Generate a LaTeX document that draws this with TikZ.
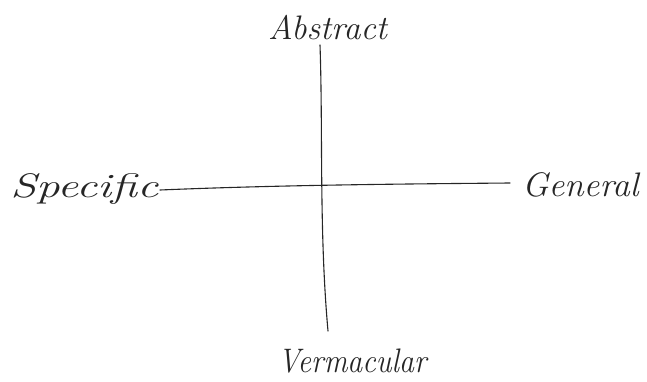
\documentclass[tikz,border=0pt]{standalone}
\begin{document}
\begin{tikzpicture}[x=1pt,y=1pt,
  lbl/.style={font=\fontsize{34}{40}\selectfont\itshape, inner sep=0pt, text=black!85, anchor=base west},
  axis/.style={draw=black!85, line width=1.1pt, line cap=round}]
\useasboundingbox (0,0) rectangle (647,381);
\node[lbl, xscale=1.38] (specific) at (10,184) {Specific};
\node[lbl] (abstract) at (268,341) {Abstract};
\node[lbl, xscale=1.03] (general) at (522,185) {General};
\node[lbl, xscale=0.88] (vermacular) at (278,9) {Vermacular};
\coordinate (top) at (320,336);
\coordinate (bot) at (328,50);
\coordinate (left) at (160,191);
\coordinate (right) at (510,198);
\draw[axis] (top) .. controls (323,250) and (319,150) .. (bot);
\draw[axis] (left) .. controls (280,196) and (400,197) .. (right);
\end{tikzpicture}
\end{document}
